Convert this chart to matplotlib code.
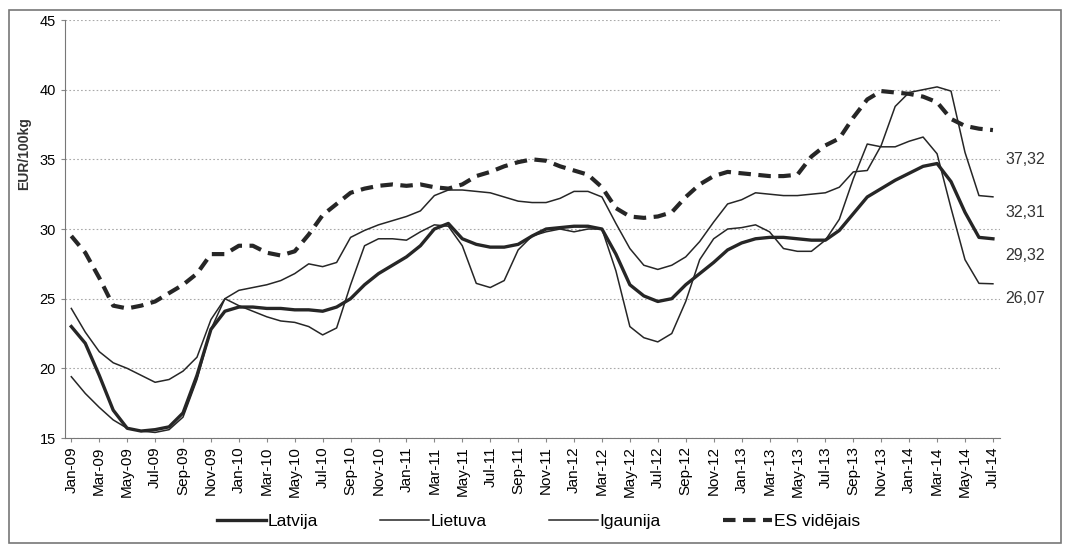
import numpy as np
import matplotlib.pyplot as plt
from matplotlib.lines import Line2D

plt.rcParams['font.family'] = ['Liberation Sans Narrow', 'Liberation Sans', 'DejaVu Sans']

# monthly values Jan-09 .. Jul-14 (EUR/100kg)
latvija = [23.0, 21.8, 19.5, 17.0, 15.7, 15.5, 15.6, 15.8, 16.8, 19.5,
           22.8, 24.1, 24.4, 24.4, 24.3, 24.3, 24.2, 24.2, 24.1, 24.4,
           25.0, 26.0, 26.8, 27.4, 28.0, 28.8, 30.0, 30.4, 29.3, 28.9,
           28.7, 28.7, 28.9, 29.5, 30.0, 30.1, 30.2, 30.2, 30.0, 28.2,
           26.0, 25.2, 24.8, 25.0, 26.0, 26.8, 27.6, 28.5, 29.0, 29.3,
           29.4, 29.4, 29.3, 29.2, 29.2, 29.9, 31.1, 32.3, 32.9, 33.5,
           34.0, 34.5, 34.7, 33.4, 31.2, 29.4, 29.3]
lietuva = [19.4, 18.2, 17.2, 16.3, 15.7, 15.5, 15.4, 15.6, 16.5, 19.2,
           22.8, 25.0, 24.5, 24.1, 23.7, 23.4, 23.3, 23.0, 22.4, 22.9,
           26.0, 28.8, 29.3, 29.3, 29.2, 29.8, 30.3, 30.2, 28.8, 26.1,
           25.8, 26.3, 28.5, 29.5, 29.8, 30.0, 29.8, 30.0, 30.0, 27.0,
           23.0, 22.2, 21.9, 22.5, 24.8, 27.8, 29.3, 30.0, 30.1, 30.3,
           29.8, 28.6, 28.4, 28.4, 29.2, 30.7, 33.6, 36.1, 35.9, 35.9,
           36.3, 36.6, 35.4, 31.5, 27.8, 26.1, 26.07]
igaunija = [24.3, 22.6, 21.2, 20.4, 20.0, 19.5, 19.0, 19.2, 19.8, 20.8,
            23.5, 25.0, 25.6, 25.8, 26.0, 26.3, 26.8, 27.5, 27.3, 27.6,
            29.4, 29.9, 30.3, 30.6, 30.9, 31.3, 32.4, 32.8, 32.8, 32.7,
            32.6, 32.3, 32.0, 31.9, 31.9, 32.2, 32.7, 32.7, 32.3, 30.4,
            28.6, 27.4, 27.1, 27.4, 28.0, 29.1, 30.5, 31.8, 32.1, 32.6,
            32.5, 32.4, 32.4, 32.5, 32.6, 33.0, 34.1, 34.2, 36.0, 38.8,
            39.8, 40.0, 40.2, 39.9, 35.5, 32.4, 32.31]
es_videjais = [29.5, 28.3, 26.5, 24.5, 24.3, 24.5, 24.8, 25.4, 26.0, 26.8,
               28.2, 28.2, 28.8, 28.8, 28.3, 28.1, 28.4, 29.6, 31.0, 31.8,
               32.6, 32.9, 33.1, 33.2, 33.1, 33.2, 33.0, 32.9, 33.2, 33.8,
               34.1, 34.5, 34.8, 35.0, 34.9, 34.5, 34.2, 33.9, 33.0, 31.5,
               30.9, 30.8, 30.9, 31.2, 32.3, 33.2, 33.8, 34.1, 34.0, 33.9,
               33.8, 33.8, 33.9, 35.2, 36.0, 36.5, 38.0, 39.3, 39.9, 39.8,
               39.7, 39.5, 39.1, 37.9, 37.4, 37.2, 37.1]

mon = ['Jan', 'Mar', 'May', 'Jul', 'Sep', 'Nov']
tick_labels = ['%s-%02d' % (mon[i % 6], 9 + i // 6) for i in range(34)]
end_labels = ['37,32', '32,31', '29,32', '26,07']
end_label_y = [35.0, 31.2, 28.1, 25.0]

months = np.arange(len(latvija))
col = '#262626'

fig = plt.figure(figsize=(10.66, 5.5), dpi=100)
ax = fig.add_axes([0.061, 0.2036, 0.877, 0.76])

ax.plot(months, igaunija, color=col, lw=1.1)
ax.plot(months, lietuva, color=col, lw=1.1)
ax.plot(months, latvija, color=col, lw=2.4)
ax.plot(months, es_videjais, color=col, lw=3.0, dashes=(3, 1.8))

ax.set_xlim(-0.45, 66.5)
ax.set_ylim(15, 45)
ax.set_yticks(range(15, 46, 5))
ax.set_xticks(np.arange(0, 67, 2))
ax.set_xticklabels(tick_labels, rotation=90, fontsize=11)
ax.tick_params(axis='y', labelsize=10.5, length=3, color='#888888')
ax.tick_params(axis='x', length=3, color='#888888', pad=3)
ax.grid(axis='y', linestyle=(0, (1.5, 2)), color='#aaaaaa', lw=0.8)
for s in ['top', 'right']:
    ax.spines[s].set_visible(False)
ax.spines['left'].set_color('#777777')
ax.spines['bottom'].set_color('#777777')
ax.spines['left'].set_linestyle((0, (3, 1)))

ax.set_ylabel('EUR/100kg', fontsize=10, fontweight='bold', color='#333333')
ax.yaxis.set_label_coords(-0.036, 0.68)

for t, v in zip(end_labels, end_label_y):
    ax.text(66.9, v, t, fontsize=11.5, va='center', ha='left', color='#333333')

# outer frame
fig.patches.append(plt.Rectangle((0.008, 0.012), 0.987, 0.97, transform=fig.transFigure,
                                 fill=False, edgecolor='#777777', lw=1.2))

handles = [Line2D([], [], color=col, lw=2.4),
           Line2D([], [], color=col, lw=1.1),
           Line2D([], [], color=col, lw=1.1),
           Line2D([], [], color=col, lw=3.0, dashes=(3, 1.8))]
fig.legend(handles, ['Latvija', 'Lietuva', 'Igaunija', 'ES vidējais'],
           loc='center', bbox_to_anchor=(0.505, 0.052), ncol=4, frameon=False,
           fontsize=12.5, handlelength=2.8, handletextpad=0.1, columnspacing=3.6)

fig.savefig('out.png', dpi=100)
